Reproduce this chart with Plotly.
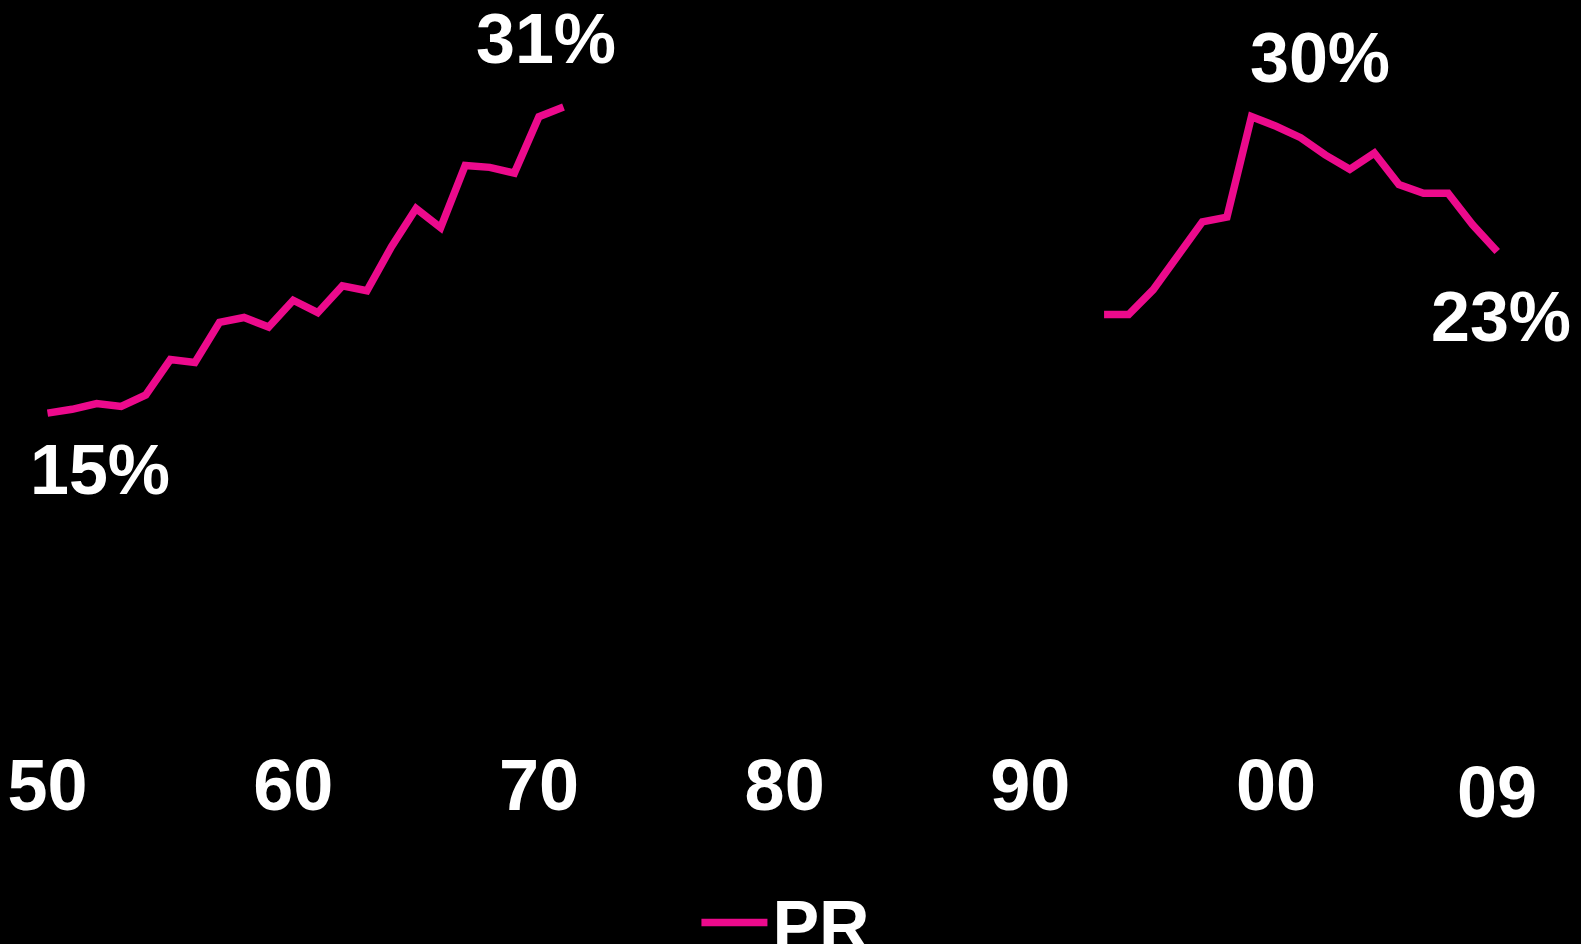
import plotly.graph_objects as go

# ---- data ----
years = list(range(1950, 2010))
pr_early = [15.0, 15.2, 15.5, 15.35, 15.95, 17.8, 17.65, 19.75, 20.0, 19.5,
            20.9, 20.25, 21.65, 21.4, 23.7, 25.7, 24.7, 27.95, 27.85, 27.55,
            30.5, 31.0]  # 1950-1971
pr_late = [20.15, 20.15, 21.45, 23.2, 25.0, 25.25, 30.5, 30.0, 29.4, 28.5,
           27.75, 28.6, 26.95, 26.5, 26.5, 24.85, 23.45]  # 1993-2009
pr = pr_early + [None] * (1993 - 1972) + pr_late

tick_years = [1950, 1960, 1970, 1980, 1990, 2000]
tick_text = ["50", "60", "70", "80", "90", "00"]
last_label = "09"

labels = [  # (x, y, text)
    (1952.14, 12.0, "15%"),
    (1970.29, 34.55, "31%"),
    (2001.79, 33.55, "30%"),
    (2009.16, 20.0, "23%"),
]

PINK = "#EC0A8C"
FONT = "Liberation Sans, Arial, sans-serif"

fig = go.Figure()
fig.add_trace(go.Scatter(
    x=years, y=pr, mode="lines", name="PR",
    line=dict(color=PINK, width=7.5), connectgaps=False,
))

for x, y, t in labels:
    fig.add_annotation(x=x, y=y, text=t, showarrow=False,
                       font=dict(family=FONT, size=70, color="white", weight="bold"),
                       xanchor="center", yanchor="middle")

fig.add_annotation(x=2009, xref="x", y=-0.132, yref="paper", text=last_label,
                   showarrow=False, xanchor="center", yanchor="middle",
                   font=dict(family=FONT, size=72, color="white", weight="bold"))

fig.update_layout(
    width=1581, height=944,
    paper_bgcolor="black", plot_bgcolor="black",
    margin=dict(l=0, r=0, t=0, b=244, autoexpand=False),
    showlegend=True,
    legend=dict(orientation="h", x=0.4405, xanchor="left", y=-0.318, yanchor="middle",
                font=dict(family=FONT, size=70, color="white", weight="bold"),
                itemwidth=66, bgcolor="rgba(0,0,0,0)"),
    xaxis=dict(range=[1948.067, 2012.41], showgrid=False, zeroline=False, showline=False,
               tickvals=tick_years, ticktext=tick_text, ticks="outside", ticklen=23,
               tickcolor="black",
               tickfont=dict(family=FONT, size=72, color="white", weight="bold")),
    yaxis=dict(range=[0, 36.6], showgrid=False, zeroline=False, showline=False,
               showticklabels=False, ticks=""),
)

fig.write_html(
    "out.html",
    config={"displayModeBar": False},
    post_script="document.body.style.margin='0px';"
                "document.body.style.backgroundColor='black';"
                "document.documentElement.style.backgroundColor='black';",
)
